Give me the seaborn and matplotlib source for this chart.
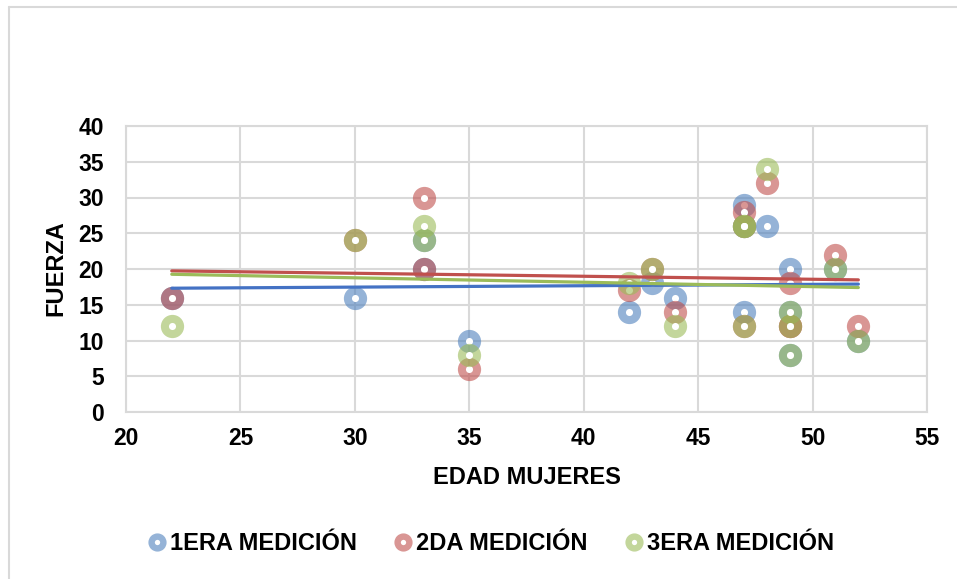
import numpy as np
import pandas as pd
import seaborn as sns
import matplotlib.pyplot as plt
from matplotlib.lines import Line2D

# ---- data ----
edad_1 = [22, 30, 33, 33, 35, 42, 43, 44, 47, 47, 47, 48, 49, 49, 49, 51, 52]
fuerza_1 = [16, 16, 24, 20, 10, 14, 18, 16, 29, 26, 14, 26, 20, 14, 8, 20, 10]
edad_2 = [22, 30, 33, 33, 35, 42, 43, 44, 47, 47, 47, 48, 49, 49, 49, 51, 52]
fuerza_2 = [16, 24, 30, 20, 6, 17, 20, 14, 28, 26, 12, 32, 18, 12, 12, 22, 12]
edad_3 = [22, 30, 33, 33, 35, 42, 43, 44, 47, 47, 47, 48, 49, 49, 49, 51, 52]
fuerza_3 = [12, 24, 26, 24, 8, 18, 20, 12, 26, 26, 12, 34, 14, 12, 8, 20, 10]
series_names = ["1ERA MEDICIÓN", "2DA MEDICIÓN", "3ERA MEDICIÓN"]
x_ticks = [20, 25, 30, 35, 40, 45, 50, 55]
y_ticks = [0, 5, 10, 15, 20, 25, 30, 35, 40]

colors = ["#4F81BD", "#C0504D", "#9BBB59"]
line_colors = ["#4472C4", "#C0504D", "#9BBB59"]

df = pd.concat([
    pd.DataFrame({"edad": edad_1, "fuerza": fuerza_1, "serie": series_names[0]}),
    pd.DataFrame({"edad": edad_2, "fuerza": fuerza_2, "serie": series_names[1]}),
    pd.DataFrame({"edad": edad_3, "fuerza": fuerza_3, "serie": series_names[2]}),
], ignore_index=True)

sns.set_theme(style="white")
plt.rcParams["font.family"] = ["Liberation Sans", "DejaVu Sans"]
plt.rcParams["font.weight"] = "bold"
plt.rcParams["text.color"] = "black"
plt.rcParams["axes.labelcolor"] = "black"
plt.rcParams["xtick.color"] = "black"
plt.rcParams["ytick.color"] = "black"

W, H = 957, 579
fig = plt.figure(figsize=(W / 100, H / 100), dpi=100)
ax = fig.add_axes([126 / W, 1 - 412 / H, 801 / W, 286 / H])

grid_c = "#D9D9D9"
for i, name in enumerate(series_names):
    sub = df[df["serie"] == name]
    sns.scatterplot(data=sub, x="edad", y="fuerza", ax=ax, color=colors[i],
                    alpha=0.6, s=280, linewidth=0, legend=False, zorder=3 + i)
    sns.scatterplot(data=sub, x="edad", y="fuerza", ax=ax, color="white",
                    s=26, linewidth=0, legend=False, zorder=3 + i)

for i, name in enumerate(series_names):
    sub = df[df["serie"] == name]
    sns.regplot(data=sub, x="edad", y="fuerza", ax=ax, scatter=False, ci=None,
                truncate=True, color=line_colors[i],
                line_kws={"linewidth": 2.3, "zorder": 10})

ax.set_xlim(20, 55)
ax.set_ylim(0, 40)
ax.set_xticks(x_ticks)
ax.set_yticks(y_ticks)
ax.set_xticklabels([str(v) for v in x_ticks], fontsize=16.5, fontweight="bold")
ax.set_yticklabels([str(v) for v in y_ticks], fontsize=16.5, fontweight="bold")
ax.tick_params(axis="x", length=0, pad=11, colors="black")
ax.tick_params(axis="y", length=0, pad=16, colors="black")
ax.grid(True, color=grid_c, linewidth=1.5, zorder=0)
ax.set_axisbelow(True)
for sp in ax.spines.values():
    sp.set_color(grid_c)
    sp.set_linewidth(1.5)
ax.set_xlabel("")
ax.set_ylabel("")

fig.text(56 / W, 1 - 268 / H, "FUERZA", rotation=90, ha="center", va="center",
         fontsize=17, fontweight="bold", color="black")
fig.text(527 / W, 1 - 477 / H, "EDAD MUJERES", ha="center", va="center",
         fontsize=17, fontweight="bold", color="black")

handles = [Line2D([], [], linestyle="none", marker="o", markersize=8.5,
                  markerfacecolor="white", markeredgecolor=colors[i],
                  markeredgewidth=4.6, alpha=0.6)
           for i in range(3)]
leg = fig.legend(handles, series_names, loc="center", ncol=3,
                 bbox_to_anchor=(491 / W, 1 - 544 / H), frameon=False,
                 prop={"size": 17, "weight": "bold"}, handlelength=0.8,
                 handletextpad=0.15, columnspacing=1.55, borderpad=0)
for t in leg.get_texts():
    t.set_color("black")

# chart-area border (top and left visible)
fig.add_artist(Line2D([9 / W, 1], [1 - 7 / H, 1 - 7 / H], color=grid_c,
                      linewidth=1.5, transform=fig.transFigure))
fig.add_artist(Line2D([9 / W, 9 / W], [0, 1 - 7 / H], color=grid_c,
                      linewidth=1.5, transform=fig.transFigure))

fig.savefig("out.png", dpi=100, facecolor="white")
